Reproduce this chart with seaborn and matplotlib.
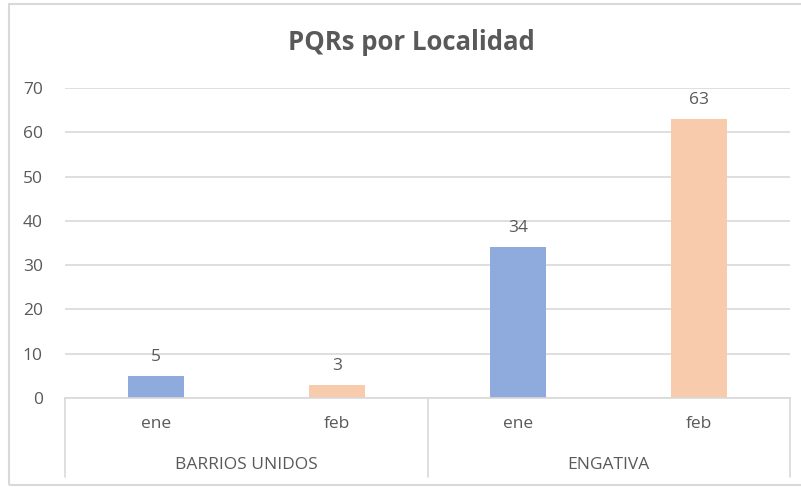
import pandas as pd
import seaborn as sns
import matplotlib.pyplot as plt
from matplotlib.patches import Rectangle
from matplotlib.transforms import blended_transform_factory

# data
localidades = ["BARRIOS UNIDOS", "BARRIOS UNIDOS", "ENGATIVA", "ENGATIVA"]
meses = ["ene", "feb", "ene", "feb"]
valores = [5, 3, 34, 63]
y_ticks = [0, 10, 20, 30, 40, 50, 60, 70]

gray_text = "#595959"
grid_gray = "#D9D9D9"
colores = {"ene": "#8FAADC", "feb": "#F8CBAD"}

df = pd.DataFrame({"localidad": localidades, "mes": meses, "valor": valores})
df["pos"] = [f"{l}|{m}" for l, m in zip(localidades, meses)]

sns.set_theme(style="white")
plt.rcParams["font.family"] = ["Open Sans", "DejaVu Sans"]

fig = plt.figure(figsize=(8.01, 4.87), dpi=100)
ax = fig.add_axes([65 / 801, 89 / 487, 725 / 801, 310 / 487])

sns.barplot(data=df, x="pos", y="valor", hue="mes", palette=colores,
            dodge=False, width=0.31, legend=False, ax=ax, saturation=1,
            order=list(df["pos"]), linewidth=0)

for cont in ax.containers:
    ax.bar_label(cont, padding=8, fontsize=12.5, color=gray_text)

ax.set_ylim(0, 70)
ax.set_xlim(-0.5, 3.5)
ax.set_yticks(y_ticks)
ax.tick_params(axis="y", length=0, pad=16, labelsize=12.5, labelcolor=gray_text)
ax.set_xticks([])
ax.set_xlabel("")
ax.set_ylabel("")
ax.yaxis.grid(True, color=grid_gray, linewidth=1.2)
ax.set_axisbelow(True)
for side in ["top", "right", "left"]:
    ax.spines[side].set_visible(False)
ax.spines["bottom"].set_color(grid_gray)
ax.spines["bottom"].set_linewidth(1.2)

# two-level category axis
trans = blended_transform_factory(ax.transData, ax.transAxes)
for i, m in enumerate(meses):
    ax.text(i, -0.085, m, transform=trans, ha="center", va="center",
            fontsize=12.5, color=gray_text)
grupos = list(dict.fromkeys(localidades))
for j, g in enumerate(grupos):
    ax.text(2 * j + 0.5, -0.215, g, transform=trans, ha="center", va="center",
            fontsize=12.5, color=gray_text)
for xv in [-0.5, 1.5, 3.5]:
    ax.plot([xv, xv], [0, -0.255], transform=trans, color=grid_gray,
            linewidth=1.2, clip_on=False)

fig.text(0.513, 0.912, "PQRs por Localidad", ha="center", va="center",
         fontsize=18.5, fontweight="bold", color=gray_text)

# chart area border
fig.patches.append(Rectangle((9 / 801, 2 / 487), 1.0, 481 / 487,
                             transform=fig.transFigure, fill=False,
                             edgecolor=grid_gray, linewidth=1.5))

plt.savefig("out.png", dpi=100)
